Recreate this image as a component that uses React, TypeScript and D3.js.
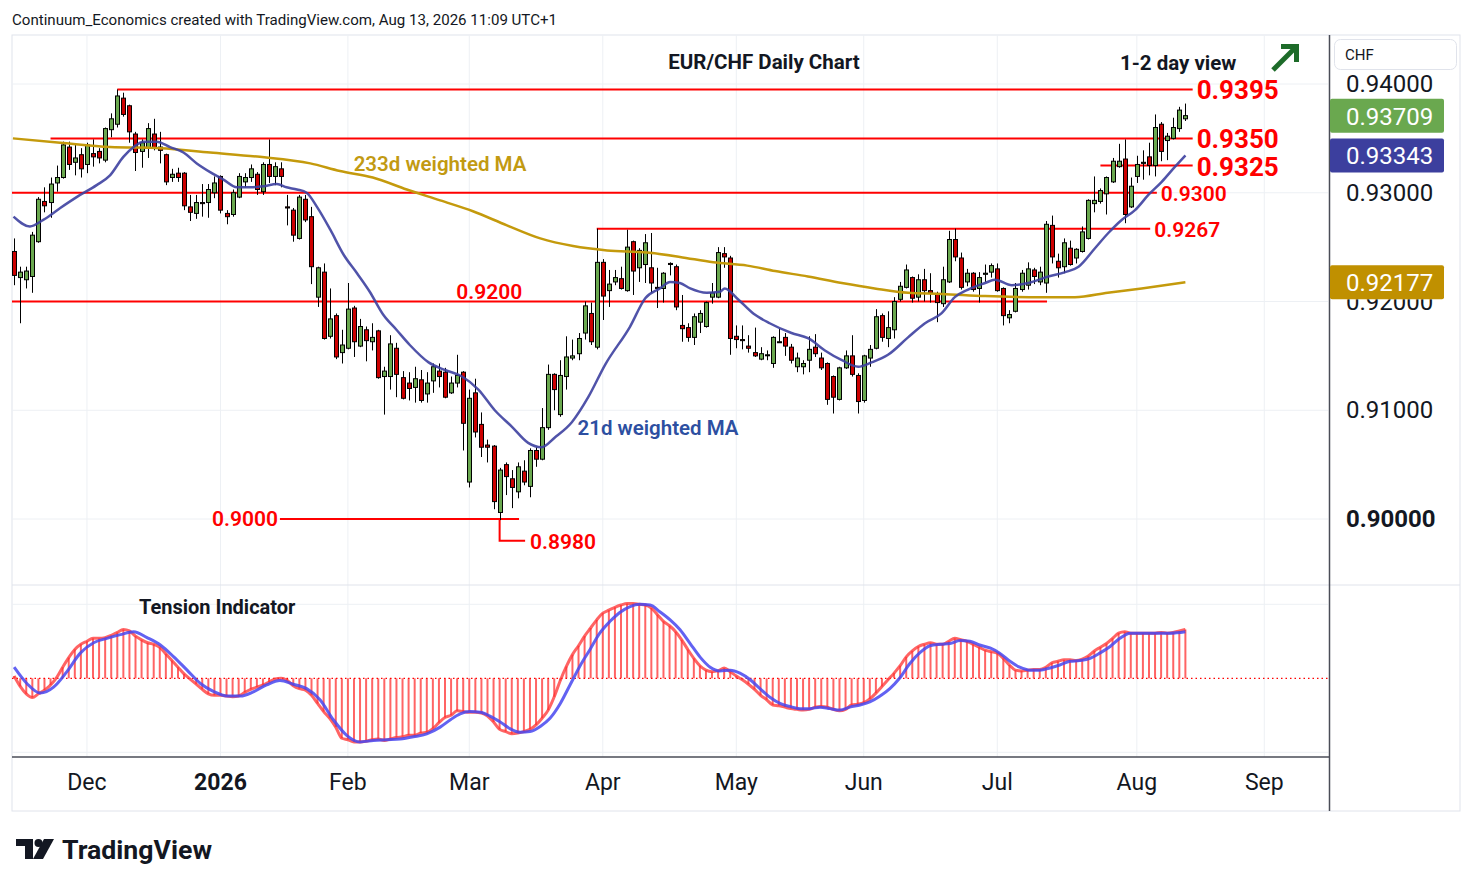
import React from 'react';
import * as d3 from 'd3';

// daily EUR/CHF candles, [open, high, low, close], first bar Nov 13 2025
const ohlc: [number, number, number, number][] = [
  [0.9246, 0.9258, 0.9215, 0.9224],
  [0.9222, 0.9232, 0.9180, 0.9227],
  [0.9220, 0.9232, 0.9212, 0.9228],
  [0.9223, 0.9264, 0.9208, 0.9261],
  [0.9255, 0.9296, 0.9254, 0.9294],
  [0.9292, 0.9305, 0.9282, 0.9288],
  [0.9291, 0.9314, 0.9277, 0.9308],
  [0.9309, 0.9325, 0.9301, 0.9314],
  [0.9314, 0.9347, 0.9313, 0.9344],
  [0.9342, 0.9347, 0.9321, 0.9326],
  [0.9328, 0.9344, 0.9316, 0.9332],
  [0.9335, 0.9341, 0.9314, 0.9322],
  [0.9326, 0.9346, 0.9318, 0.9344],
  [0.9336, 0.9349, 0.9324, 0.9333],
  [0.9338, 0.9341, 0.9327, 0.9332],
  [0.9330, 0.9360, 0.9328, 0.9359],
  [0.9358, 0.9373, 0.9351, 0.9368],
  [0.9363, 0.9395, 0.9360, 0.9389],
  [0.9387, 0.9392, 0.9370, 0.9372],
  [0.9380, 0.9381, 0.9346, 0.9356],
  [0.9354, 0.9356, 0.9320, 0.9337],
  [0.9338, 0.9349, 0.9323, 0.9346],
  [0.9341, 0.9364, 0.9332, 0.9359],
  [0.9354, 0.9368, 0.9339, 0.9341],
  [0.9342, 0.9356, 0.9327, 0.9339],
  [0.9335, 0.9336, 0.9307, 0.9310],
  [0.9314, 0.9322, 0.9310, 0.9317],
  [0.9318, 0.9323, 0.9310, 0.9314],
  [0.9318, 0.9319, 0.9284, 0.9288],
  [0.9287, 0.9298, 0.9274, 0.9282],
  [0.9281, 0.9298, 0.9276, 0.9291],
  [0.9291, 0.9308, 0.9278, 0.9290],
  [0.9291, 0.9308, 0.9277, 0.9303],
  [0.9300, 0.9315, 0.9295, 0.9309],
  [0.9315, 0.9316, 0.9281, 0.9284],
  [0.9281, 0.9284, 0.9271, 0.9278],
  [0.9280, 0.9303, 0.9278, 0.9300],
  [0.9296, 0.9318, 0.9295, 0.9315],
  [0.9310, 0.9318, 0.9305, 0.9314],
  [0.9314, 0.9326, 0.9310, 0.9322],
  [0.9317, 0.9319, 0.9298, 0.9303],
  [0.9301, 0.9328, 0.9298, 0.9326],
  [0.9326, 0.9349, 0.9309, 0.9315],
  [0.9315, 0.9328, 0.9307, 0.9324],
  [0.9322, 0.9328, 0.9305, 0.9315],
  [0.9287, 0.9298, 0.9270, 0.9286],
  [0.9284, 0.9286, 0.9255, 0.9261],
  [0.9258, 0.9298, 0.9257, 0.9296],
  [0.9294, 0.9298, 0.9273, 0.9275],
  [0.9278, 0.9287, 0.9216, 0.9232],
  [0.9204, 0.9232, 0.9195, 0.9231],
  [0.9227, 0.9235, 0.9165, 0.9166],
  [0.9168, 0.9212, 0.9166, 0.9184],
  [0.9187, 0.9189, 0.9147, 0.9149],
  [0.9153, 0.9174, 0.9143, 0.9160],
  [0.9157, 0.9217, 0.9156, 0.9193],
  [0.9194, 0.9196, 0.9149, 0.9163],
  [0.9159, 0.9184, 0.9158, 0.9177],
  [0.9174, 0.9177, 0.9145, 0.9164],
  [0.9163, 0.9180, 0.9155, 0.9167],
  [0.9173, 0.9174, 0.9129, 0.9130],
  [0.9131, 0.9140, 0.9096, 0.9136],
  [0.9131, 0.9169, 0.9119, 0.9161],
  [0.9157, 0.9162, 0.9112, 0.9133],
  [0.9130, 0.9136, 0.9110, 0.9111],
  [0.9125, 0.9135, 0.9109, 0.9120],
  [0.9121, 0.9140, 0.9107, 0.9129],
  [0.9128, 0.9137, 0.9107, 0.9109],
  [0.9115, 0.9135, 0.9107, 0.9125],
  [0.9127, 0.9143, 0.9116, 0.9140],
  [0.9136, 0.9143, 0.9121, 0.9131],
  [0.9135, 0.9139, 0.9111, 0.9112],
  [0.9116, 0.9131, 0.9115, 0.9125],
  [0.9125, 0.9151, 0.9121, 0.9132],
  [0.9135, 0.9136, 0.9063, 0.9088],
  [0.9034, 0.9119, 0.9029, 0.9111],
  [0.9116, 0.9129, 0.9075, 0.9080],
  [0.9087, 0.9098, 0.9057, 0.9066],
  [0.9068, 0.9073, 0.9052, 0.9066],
  [0.9067, 0.9068, 0.9009, 0.9016],
  [0.9006, 0.9047, 0.8999, 0.9045],
  [0.9050, 0.9052, 0.9022, 0.9039],
  [0.9037, 0.9045, 0.9010, 0.9029],
  [0.9025, 0.9052, 0.9019, 0.9048],
  [0.9044, 0.9054, 0.9031, 0.9034],
  [0.9030, 0.9065, 0.9020, 0.9063],
  [0.9063, 0.9066, 0.9048, 0.9055],
  [0.9055, 0.9102, 0.9054, 0.9084],
  [0.9084, 0.9142, 0.9082, 0.9133],
  [0.9133, 0.9134, 0.9100, 0.9119],
  [0.9096, 0.9146, 0.9094, 0.9132],
  [0.9131, 0.9168, 0.9119, 0.9149],
  [0.9148, 0.9165, 0.9146, 0.9150],
  [0.9152, 0.9171, 0.9146, 0.9166],
  [0.9171, 0.9200, 0.9165, 0.9196],
  [0.9189, 0.9199, 0.9160, 0.9163],
  [0.9158, 0.9267, 0.9156, 0.9236],
  [0.9236, 0.9239, 0.9183, 0.9205],
  [0.9210, 0.9229, 0.9195, 0.9216],
  [0.9218, 0.9229, 0.9215, 0.9222],
  [0.9221, 0.9232, 0.9211, 0.9212],
  [0.9210, 0.9266, 0.9209, 0.9250],
  [0.9255, 0.9256, 0.9206, 0.9228],
  [0.9231, 0.9249, 0.9218, 0.9247],
  [0.9234, 0.9262, 0.9217, 0.9254],
  [0.9231, 0.9263, 0.9208, 0.9217],
  [0.9213, 0.9231, 0.9194, 0.9212],
  [0.9212, 0.9227, 0.9199, 0.9226],
  [0.9235, 0.9236, 0.9224, 0.9234],
  [0.9232, 0.9234, 0.9192, 0.9195],
  [0.9178, 0.9206, 0.9163, 0.9175],
  [0.9176, 0.9180, 0.9163, 0.9167],
  [0.9167, 0.9189, 0.9160, 0.9186],
  [0.9181, 0.9192, 0.9171, 0.9189],
  [0.9177, 0.9200, 0.9176, 0.9199],
  [0.9204, 0.9217, 0.9198, 0.9208],
  [0.9204, 0.9250, 0.9203, 0.9245],
  [0.9244, 0.9250, 0.9231, 0.9241],
  [0.9240, 0.9242, 0.9151, 0.9166],
  [0.9168, 0.9178, 0.9157, 0.9165],
  [0.9165, 0.9178, 0.9156, 0.9164],
  [0.9159, 0.9169, 0.9153, 0.9157],
  [0.9153, 0.9176, 0.9149, 0.9150],
  [0.9147, 0.9158, 0.9146, 0.9152],
  [0.9151, 0.9155, 0.9146, 0.9151],
  [0.9143, 0.9168, 0.9139, 0.9167],
  [0.9163, 0.9175, 0.9162, 0.9163],
  [0.9167, 0.9171, 0.9150, 0.9159],
  [0.9158, 0.9161, 0.9143, 0.9146],
  [0.9140, 0.9153, 0.9135, 0.9148],
  [0.9140, 0.9146, 0.9133, 0.9143],
  [0.9146, 0.9168, 0.9135, 0.9156],
  [0.9158, 0.9170, 0.9149, 0.9152],
  [0.9148, 0.9153, 0.9137, 0.9139],
  [0.9143, 0.9144, 0.9105, 0.9110],
  [0.9131, 0.9132, 0.9097, 0.9112],
  [0.9110, 0.9140, 0.9109, 0.9139],
  [0.9139, 0.9155, 0.9138, 0.9150],
  [0.9150, 0.9169, 0.9131, 0.9133],
  [0.9132, 0.9134, 0.9097, 0.9108],
  [0.9109, 0.9151, 0.9107, 0.9150],
  [0.9148, 0.9160, 0.9140, 0.9156],
  [0.9157, 0.9193, 0.9156, 0.9186],
  [0.9187, 0.9189, 0.9163, 0.9167],
  [0.9166, 0.9191, 0.9158, 0.9176],
  [0.9174, 0.9204, 0.9166, 0.9200],
  [0.9202, 0.9218, 0.9200, 0.9214],
  [0.9213, 0.9234, 0.9212, 0.9229],
  [0.9222, 0.9223, 0.9199, 0.9203],
  [0.9204, 0.9225, 0.9200, 0.9220],
  [0.9220, 0.9230, 0.9200, 0.9210],
  [0.9210, 0.9226, 0.9199, 0.9208],
  [0.9207, 0.9209, 0.9181, 0.9199],
  [0.9198, 0.9232, 0.9195, 0.9220],
  [0.9218, 0.9265, 0.9217, 0.9257],
  [0.9257, 0.9267, 0.9237, 0.9241],
  [0.9240, 0.9245, 0.9211, 0.9213],
  [0.9218, 0.9230, 0.9214, 0.9226],
  [0.9226, 0.9227, 0.9209, 0.9211],
  [0.9212, 0.9227, 0.9199, 0.9222],
  [0.9225, 0.9234, 0.9218, 0.9226],
  [0.9227, 0.9235, 0.9222, 0.9233],
  [0.9230, 0.9235, 0.9209, 0.9210],
  [0.9212, 0.9213, 0.9178, 0.9187],
  [0.9185, 0.9192, 0.9180, 0.9188],
  [0.9191, 0.9217, 0.9190, 0.9212],
  [0.9211, 0.9229, 0.9209, 0.9226],
  [0.9215, 0.9236, 0.9211, 0.9230],
  [0.9229, 0.9231, 0.9216, 0.9223],
  [0.9218, 0.9232, 0.9215, 0.9227],
  [0.9217, 0.9274, 0.9208, 0.9271],
  [0.9270, 0.9279, 0.9235, 0.9241],
  [0.9237, 0.9244, 0.9222, 0.9231],
  [0.9232, 0.9258, 0.9226, 0.9254],
  [0.9249, 0.9256, 0.9233, 0.9234],
  [0.9240, 0.9249, 0.9235, 0.9248],
  [0.9246, 0.9269, 0.9245, 0.9264],
  [0.9258, 0.9294, 0.9257, 0.9293],
  [0.9290, 0.9315, 0.9282, 0.9293],
  [0.9292, 0.9304, 0.9290, 0.9302],
  [0.9299, 0.9315, 0.9280, 0.9314],
  [0.9310, 0.9332, 0.9309, 0.9329],
  [0.9324, 0.9345, 0.9323, 0.9329],
  [0.9331, 0.9349, 0.9272, 0.9280],
  [0.9287, 0.9314, 0.9286, 0.9306],
  [0.9315, 0.9334, 0.9309, 0.9326],
  [0.9327, 0.9339, 0.9312, 0.9328],
  [0.9333, 0.9346, 0.9316, 0.9325],
  [0.9325, 0.9372, 0.9315, 0.9360],
  [0.9363, 0.9365, 0.9329, 0.9338],
  [0.9348, 0.9355, 0.9330, 0.9352],
  [0.9350, 0.9369, 0.9349, 0.9360],
  [0.9359, 0.9379, 0.9356, 0.9376],
  [0.9368, 0.9382, 0.9366, 0.93709],
];

// moving averages: [bar index, value]
const wma21: [number, number][] = [
  [-0.1, 0.9278], [2.6, 0.9269], [4.8, 0.9275], [7.6, 0.9286], [10.3, 0.9296], [13.6, 0.9307],
  [15.8, 0.9316], [18, 0.9333], [19.7, 0.9342], [21.3, 0.9347], [23.5, 0.9347], [25.7, 0.9342],
  [27.9, 0.9337], [30.1, 0.9327], [32.3, 0.9319], [34.5, 0.9312], [36.7, 0.9305], [38.9, 0.9305],
  [41.1, 0.9306], [43.3, 0.9308], [44.9, 0.9305], [46.6, 0.9303], [48.2, 0.93], [49.9, 0.9287],
  [52.1, 0.9266], [54.3, 0.9243], [56.5, 0.9226], [58.6, 0.9209], [60.8, 0.9188], [63, 0.9174],
  [65.2, 0.916], [68.3, 0.9144], [71, 0.9137], [73.8, 0.9131], [76.5, 0.9119], [79.2, 0.91],
  [82, 0.9085], [84.7, 0.907], [86.9, 0.9066], [89.1, 0.9075], [91.9, 0.9089], [94.6, 0.9112],
  [97.4, 0.9142], [101.5, 0.9177], [104, 0.9203], [106.4, 0.9212], [108.1, 0.9218], [109.7, 0.9217],
  [111.4, 0.9212], [114.1, 0.9208], [116.3, 0.9209], [117.1, 0.9212], [119.1, 0.9203], [121.8, 0.9189],
  [124.5, 0.918], [128.1, 0.9171], [130.9, 0.9166], [133.6, 0.9155], [136.4, 0.9146], [139.1, 0.914],
  [141.3, 0.9144], [144, 0.9151], [147.3, 0.9167], [150.1, 0.918], [152.8, 0.9189], [155, 0.9204],
  [157.2, 0.9211], [160, 0.9217], [161.6, 0.922], [164.4, 0.9215], [167.1, 0.9217], [170.4, 0.9223],
  [173.2, 0.9227], [175.4, 0.9232], [178.1, 0.9249], [180.3, 0.9263], [182.5, 0.9275], [184.7, 0.9284],
  [186.9, 0.9298], [189.1, 0.931], [191.3, 0.9324], [193, 0.93343],
];

const wma233: [number, number][] = [
  [-0.2, 0.935], [7.6, 0.9346], [15.8, 0.9342], [24.1, 0.9341], [32.3, 0.9337], [40.5, 0.9333],
  [48.8, 0.9327], [53.7, 0.932], [59.1, 0.9314], [64.7, 0.9303], [70.2, 0.9293], [75.6, 0.9283],
  [81.2, 0.927], [86.7, 0.9258], [92.1, 0.9251], [97.7, 0.9247], [104.3, 0.9245], [109.7, 0.9241],
  [115.2, 0.9236], [120.8, 0.9233], [125.4, 0.9228], [130.8, 0.9223], [136.4, 0.9217], [141.8, 0.9212],
  [147.3, 0.9208], [152.9, 0.9207], [160, 0.9205], [169.4, 0.9204], [174.8, 0.9204], [180.2, 0.9208],
  [185.8, 0.9212], [193, 0.92177],
];

// tension indicator, one value per bar (fast line + histogram)
const tensionFast: number[] = [
  3, -11, -21, -26, -21, -16, -9, 1, 15, 28,
  39, 46, 50, 54, 54, 55, 58, 62, 66, 64,
  57, 52, 48, 46, 42, 33, 24, 15, 6, -1,
  -8, -15, -21, -23, -23, -24, -25, -24, -19, -15,
  -12, -9, -5, -1, 0, -3, -10, -14, -16, -23,
  -34, -45, -54, -66, -81, -83, -86, -86, -85, -83,
  -82, -84, -82, -80, -79, -77, -77, -74, -73, -68,
  -60, -53, -50, -44, -45, -46, -46, -47, -51, -59,
  -69, -72, -75, -74, -72, -69, -63, -54, -43, -25,
  -3, 16, 32, 44, 57, 68, 79, 88, 92, 96,
  99, 101, 101, 100, 99, 95, 86, 77, 71, 63,
  52, 39, 27, 17, 11, 9, 10, 14, 9, 3,
  -2, -8, -15, -23, -29, -36, -37, -39, -41, -42,
  -43, -42, -39, -38, -39, -42, -44, -42, -36, -35,
  -33, -28, -20, -11, -2, 7, 17, 29, 37, 43,
  46, 48, 46, 46, 50, 54, 52, 50, 46, 42,
  38, 36, 34, 27, 18, 11, 10, 11, 12, 12,
  15, 21, 23, 25, 25, 24, 26, 30, 37, 42,
  47, 54, 61, 63, 61, 61, 61, 61, 61, 62,
  61, 62, 64, 66,
];

const tensionSlow: [number, number][] = [
  [0, 15], [2.1, -7], [4.3, -20], [6.5, -12], [8.7, 9], [10.9, 34], [13.1, 48], [15.3, 54],
  [17.5, 59], [19.7, 63], [21.9, 55], [24.1, 45], [26.3, 29], [28.5, 11], [30.7, -7], [32.9, -18],
  [35.1, -24], [37.3, -24], [39.5, -18], [41.6, -9], [43.8, -3], [46, -8], [48.2, -14], [50.4, -29],
  [52.6, -56], [54.8, -77], [57, -86], [59.2, -84], [61.4, -83], [63.6, -82], [65.8, -79], [68, -75],
  [70.2, -66], [71.9, -56], [73.5, -48], [75.1, -45], [76.8, -46], [78.4, -51], [80.1, -59], [81.7, -68],
  [83.4, -73], [85, -72], [86.7, -65], [88.3, -54], [90, -34], [91.6, -9], [93.2, 16], [94.9, 39],
  [96.5, 61], [98.2, 77], [99.8, 89], [101.5, 97], [103.1, 100], [104.8, 99], [106.4, 90], [108.1, 79],
  [109.7, 66], [111.4, 47], [113, 29], [114.7, 15], [116.3, 10], [118, 11], [119.6, 7], [121.3, -2],
  [122.9, -14], [124.6, -26], [126.2, -34], [127.8, -38], [129.5, -41], [131.1, -41], [132.8, -39], [134.4, -41],
  [136.1, -43], [137.7, -39], [139.4, -36], [141, -32], [142.7, -24], [144.3, -14], [145.9, 0], [147.6, 20],
  [149.3, 35], [150.9, 44], [152.6, 46], [154.2, 47], [155.9, 51], [157.5, 50], [159.1, 45], [160.8, 41],
  [162.4, 34], [164.1, 23], [165.7, 15], [167.4, 11], [169, 11], [170.7, 14], [172.3, 18], [174, 23],
  [175.6, 24], [177.3, 27], [178.9, 34], [180.6, 43], [182.2, 54], [183.9, 61], [187.2, 61], [190.5, 61],
  [193, 63],
];

const priceTicks = [0.9, 0.91, 0.92, 0.93, 0.94];

const monthTicks = [
  { month: '2025-12', label: 'Dec' },
  { month: '2026-01', label: '2026', bold: true },
  { month: '2026-02', label: 'Feb' },
  { month: '2026-03', label: 'Mar' },
  { month: '2026-04', label: 'Apr' },
  { month: '2026-05', label: 'May' },
  { month: '2026-06', label: 'Jun' },
  { month: '2026-07', label: 'Jul' },
  { month: '2026-08', label: 'Aug' },
  { month: '2026-09', label: 'Sep' },
];

const holidays = ['2025-12-25', '2026-01-01'];

// support / resistance levels, from / to in bar index
const levels = [
  { value: 0.9395, from: 17, to: 194.2, label: '0.9395', big: true },
  { value: 0.935, from: 6, to: 194.2, label: '0.9350', big: true },
  { value: 0.9325, from: 179, to: 194.2, label: '0.9325', big: true },
  { value: 0.93, from: -0.35, to: 188.3, label: '0.9300', big: false },
  { value: 0.9267, from: 96, to: 187.2, label: '0.9267', big: false },
];
const level9200 = { value: 0.92, from: -0.35, to: 170.2, labelAt: 78.3 };
const level9000 = { value: 0.9, from: 43.8, to: 83.2 };
const low8980 = { value: 0.898, bar: 80, to: 84.2 };

const lastClose = 0.93709;
const lastWma21 = 0.93343;
const lastWma233 = 0.92177;

const FONT = 'Roboto, "Noto Sans", Arial, sans-serif';

const tradingDays: string[] = [];
{
  let t = Date.UTC(2025, 10, 13);
  while (tradingDays.length < 230) {
    const d = new Date(t);
    const key = d.toISOString().slice(0, 10);
    const wd = d.getUTCDay();
    if (wd !== 0 && wd !== 6 && !holidays.includes(key)) tradingDays.push(key);
    t += 86400000;
  }
}

const App: React.FC = () => {
  const left = 12;
  const right = 1328;
  const paneTop = 35;
  const paneBottom = 585;
  const indBottom = 757;

  const x = d3.scaleLinear().domain([-0.35, 216.5]).range([left, right]);
  const y = d3.scaleLinear().domain([0.9, 0.94]).range([519, 84]);
  const ty = d3.scaleLinear().domain([-100, 100]).range([752.3, 604.3]);

  const maLine = d3.line<[number, number]>()
    .x(d => x(d[0]))
    .y(d => y(d[1]))
    .curve(d3.curveMonotoneX);

  const tLine = d3.line<[number, number]>()
    .x(d => x(d[0]))
    .y(d => ty(d[1]))
    .curve(d3.curveMonotoneX);

  const fastPts = tensionFast.map((v, i) => [i, v] as [number, number]);

  const ticks = monthTicks.map(m => ({
    ...m,
    i: tradingDays.findIndex(d => d.startsWith(m.month)),
  }));

  const red = '#ff0000';

  return (
    <div style={{ position: 'absolute', left: 0, top: 0 }}>
      <svg width={1474} height={887} style={{ display: 'block', background: '#fff', fontFamily: FONT }}>
        <defs>
          <clipPath id="pane">
            <rect x={left} y={paneTop} width={right - left} height={paneBottom - paneTop} />
          </clipPath>
          <clipPath id="ind">
            <rect x={left} y={paneBottom + 1} width={right - left} height={indBottom - paneBottom - 1} />
          </clipPath>
          <clipPath id="axis92">
            <rect x={1330} y={y(lastWma233) + 17} width={130} height={30} />
          </clipPath>
        </defs>

        {/* header */}
        <text x={12} y={25} fontSize={14} fill="#131722" textLength={545} lengthAdjust="spacingAndGlyphs">
          Continuum_Economics created with TradingView.com, Aug 13, 2026 11:09 UTC+1
        </text>

        {/* frame */}
        <rect x={left} y={paneTop} width={1460 - left} height={811 - paneTop} fill="none" stroke="#e0e3eb" />

        {/* grid */}
        {ticks.map(t => (
          <line key={t.month} x1={x(t.i)} x2={x(t.i)} y1={paneTop} y2={indBottom} stroke="#edf0f4" />
        ))}
        {priceTicks.map(p => (
          <line key={p} x1={left} x2={right} y1={y(p)} y2={y(p)} stroke="#edf0f4" />
        ))}
        {[100, -100].map(v => (
          <line key={v} x1={left} x2={right} y1={ty(v)} y2={ty(v)} stroke="#edf0f4" />
        ))}
        <line x1={left} x2={1460} y1={paneBottom} y2={paneBottom} stroke="#e0e3eb" />

        {/* levels */}
        <g stroke={red} strokeWidth={2}>
          {levels.map(l => (
            <line key={l.label} x1={x(l.from)} x2={x(l.to)} y1={y(l.value)} y2={y(l.value)} />
          ))}
          <line x1={x(level9200.from)} x2={x(level9200.to)} y1={y(level9200.value)} y2={y(level9200.value)} />
          <line x1={x(level9000.from)} x2={x(level9000.to)} y1={y(level9000.value)} y2={y(level9000.value)} />
          <polyline
            fill="none"
            points={`${x(low8980.bar)},${y(ohlc[low8980.bar][2])} ${x(low8980.bar)},${y(low8980.value)} ${x(low8980.to)},${y(low8980.value)}`}
          />
        </g>

        {/* candles */}
        <g clipPath="url(#pane)">
          {ohlc.map(([o, h, l, c], i) => {
            const cx = Math.round(x(i)) + 0.5;
            const top = y(Math.max(o, c));
            const bot = y(Math.min(o, c));
            return (
              <g key={i}>
                <line x1={cx} x2={cx} y1={y(h)} y2={y(l)} stroke="#000" strokeWidth={1} />
                <rect
                  x={cx - 2}
                  y={top}
                  width={4}
                  height={Math.max(1, bot - top)}
                  fill={c >= o ? '#6aa84f' : '#cc0000'}
                  stroke="#000"
                  strokeWidth={1}
                />
              </g>
            );
          })}
          <path d={maLine(wma233) ?? ''} fill="none" stroke="#c49a0c" strokeWidth={2.5} />
          <path d={maLine(wma21) ?? ''} fill="none" stroke="#3d40a0" strokeWidth={2.5} strokeOpacity={0.9} />
        </g>

        {/* level labels */}
        {levels.map(l => (
          <text
            key={l.label}
            x={x(l.to) + 4}
            y={y(l.value) + 1}
            dominantBaseline="central"
            fill={red}
            fontSize={l.big ? 26 : 21}
            fontWeight={l.big ? 700 : 600}
          >
            {l.label}
          </text>
        ))}
        <text x={x(level9200.labelAt)} y={y(level9200.value) - 10} textAnchor="middle" dominantBaseline="central" fill={red} fontSize={21} fontWeight={600}>
          0.9200
        </text>
        <text x={x(level9000.from) - 2} y={y(level9000.value)} textAnchor="end" dominantBaseline="central" fill={red} fontSize={21} fontWeight={600}>
          0.9000
        </text>
        <text x={x(low8980.to) + 5} y={y(low8980.value) + 1} dominantBaseline="central" fill={red} fontSize={21} fontWeight={600}>
          0.8980
        </text>

        {/* chart annotations */}
        <text x={764} y={62} textAnchor="middle" dominantBaseline="central" fontSize={20.5} fontWeight={700} fill="#131722">
          EUR/CHF Daily Chart
        </text>
        <text x={1120} y={63} dominantBaseline="central" fontSize={20.5} fontWeight={700} fill="#131722">
          1-2 day view
        </text>
        <g stroke="#1d6b29" strokeWidth={5} fill="none">
          <polyline points="1281,46.5 1296.5,46.5 1296.5,62" />
          <line x1={1295} y1={48} x2={1273} y2={70} />
        </g>
        <text x={440} y={164} textAnchor="middle" dominantBaseline="central" fontSize={20.5} fontWeight={600} fill="#c29a12">
          233d weighted MA
        </text>
        <text x={658} y={428} textAnchor="middle" dominantBaseline="central" fontSize={20.5} fontWeight={600} fill="#2d4fa1">
          21d weighted MA
        </text>

        {/* tension indicator */}
        <g clipPath="url(#ind)">
          {tensionFast.map((v, i) => (
            <line key={i} x1={x(i)} x2={x(i)} y1={ty(0)} y2={ty(v)} stroke="#ff3030" strokeOpacity={0.75} strokeWidth={2} />
          ))}
          <line x1={left} x2={right} y1={ty(0)} y2={ty(0)} stroke={red} strokeWidth={1.3} strokeDasharray="1.5 3" />
          <path d={tLine(fastPts) ?? ''} fill="none" stroke="#ff3030" strokeOpacity={0.75} strokeWidth={3} />
          <path d={tLine(tensionSlow) ?? ''} fill="none" stroke="#4646f0" strokeOpacity={0.85} strokeWidth={3} />
        </g>
        <text x={139} y={607} dominantBaseline="central" fontSize={20} fontWeight={700} fill="#131722">
          Tension Indicator
        </text>

        {/* axes */}
        <line x1={1329.5} x2={1329.5} y1={paneTop} y2={811} stroke="#4a4d57" strokeWidth={1.5} />
        <line x1={left} x2={1329.5} y1={indBottom} y2={indBottom} stroke="#4a4d57" strokeWidth={1.5} />
        {ticks.map(t => (
          <text
            key={t.month}
            x={x(t.i)}
            y={782}
            textAnchor="middle"
            dominantBaseline="central"
            fontSize={23}
            fontWeight={t.bold ? 700 : 400}
            fill="#131722"
          >
            {t.label}
          </text>
        ))}

        <rect x={1334.5} y={39.5} width={122} height={30} rx={6} fill="#fff" stroke="#e0e3eb" />
        <text x={1345} y={55} dominantBaseline="central" fontSize={15} fill="#131722">CHF</text>
        {priceTicks.map(p => {
          // the 0.92000 tick sits under the 233d MA price tag, only its lower edge shows
          const hidden = Math.abs(y(p) - y(lastWma233)) < 20;
          return (
            <text
              key={p}
              x={1346}
              y={y(p)}
              dominantBaseline="central"
              fontSize={24}
              fontWeight={p === 0.9 ? 700 : 400}
              fill="#131722"
              clipPath={hidden ? 'url(#axis92)' : undefined}
            >
              {p.toFixed(5)}
            </text>
          );
        })}
        {[
          { v: lastClose, c: '#6aa84f' },
          { v: lastWma21, c: '#3c3f9e' },
          { v: lastWma233, c: '#c09000' },
        ].map(b => (
          <g key={b.v}>
            <rect x={1330} y={y(b.v) - 17} width={114} height={34} rx={2} fill={b.c} />
            <text x={1346} y={y(b.v) + 1} dominantBaseline="central" fontSize={24} fill="#fff">
              {b.v.toFixed(5)}
            </text>
          </g>
        ))}

        {/* logo */}
        <g fill="#131722">
          <rect x={16} y={839} width={17} height={7} />
          <rect x={25} y={839} width={8} height={20} />
          <circle cx={38.5} cy={843} r={4} />
          <polygon points="44,839 54,839 43,859 33,859" />
          <text x={62} y={859} fontSize={26} fontWeight={700} textLength={150} lengthAdjust="spacingAndGlyphs">
            TradingView
          </text>
        </g>
      </svg>
    </div>
  );
};

export default App;
